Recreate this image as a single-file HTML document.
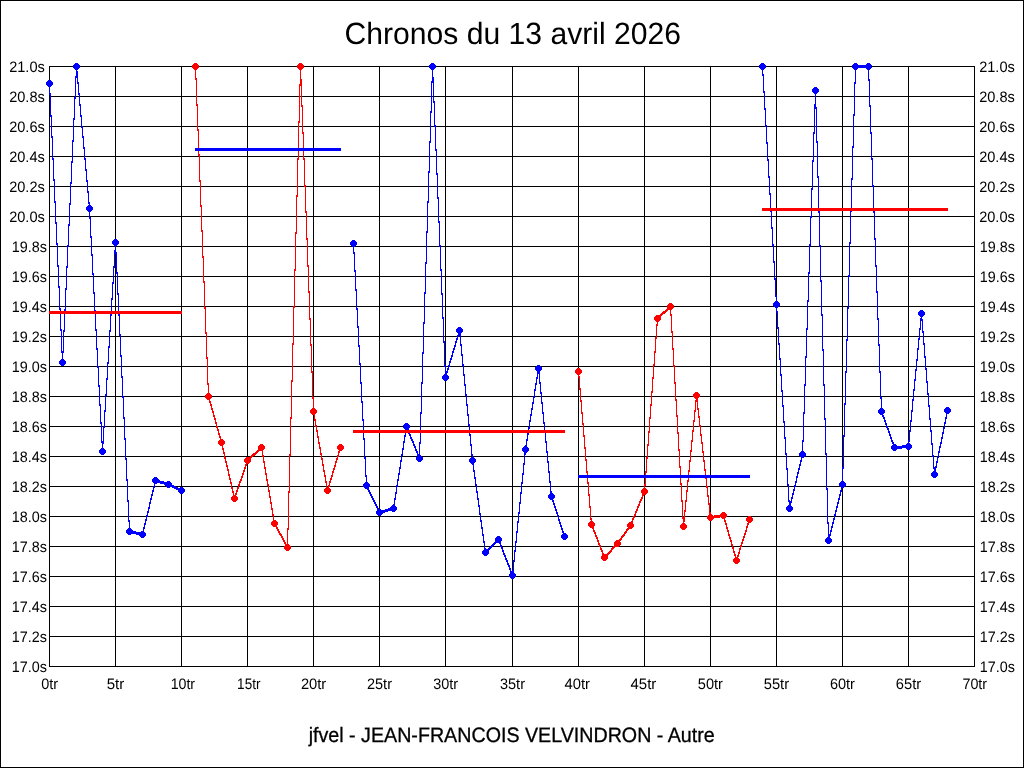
<!DOCTYPE html>
<html><head><meta charset="utf-8"><title>Chronos du 13 avril 2026</title>
<style>
html,body{margin:0;padding:0;background:#fff;width:1024px;height:768px;overflow:hidden}
svg{display:block;will-change:transform}
</style></head><body>
<svg width="1024" height="768" viewBox="0 0 1024 768">
<rect x="0" y="0" width="1024" height="768" fill="#fff"/>
<path shape-rendering="crispEdges" fill="#000" d="M0 0h1024v1H0zM0 767h1024v1H0zM0 0h1v768H0zM1023 0h1v768h-1z"/>
<path shape-rendering="crispEdges" fill="#000" d="M49 66h926v1h-926zM49 96h926v1h-926zM49 126h926v1h-926zM49 156h926v1h-926zM49 186h926v1h-926zM49 216h926v1h-926zM49 246h926v1h-926zM49 276h926v1h-926zM49 306h926v1h-926zM49 336h926v1h-926zM49 366h926v1h-926zM49 396h926v1h-926zM49 426h926v1h-926zM49 456h926v1h-926zM49 486h926v1h-926zM49 516h926v1h-926zM49 546h926v1h-926zM49 576h926v1h-926zM49 606h926v1h-926zM49 636h926v1h-926zM49 666h926v1h-926zM49 66h1v601h-1zM115 66h1v601h-1zM181 66h1v601h-1zM247 66h1v601h-1zM313 66h1v601h-1zM379 66h1v601h-1zM445 66h1v601h-1zM512 66h1v601h-1zM578 66h1v601h-1zM644 66h1v601h-1zM710 66h1v601h-1zM776 66h1v601h-1zM842 66h1v601h-1zM908 66h1v601h-1zM974 66h1v601h-1z"/>
<path shape-rendering="crispEdges" fill="#0000ff" d="M49 82h1v13h-1zM50 93h1v24h-1zM51 115h1v23h-1zM52 136h1v24h-1zM53 158h1v23h-1zM54 179h1v24h-1zM55 201h1v23h-1zM56 222h1v23h-1zM57 243h1v24h-1zM58 265h1v23h-1zM59 286h1v24h-1zM60 308h1v23h-1zM61 329h1v24h-1zM62 351h1v13h-1zM62 351h1v13h-1zM63 330h1v23h-1zM64 309h1v23h-1zM65 288h1v23h-1zM66 266h1v24h-1zM67 245h1v23h-1zM68 224h1v23h-1zM69 203h1v23h-1zM70 182h1v23h-1zM71 161h1v23h-1zM72 140h1v23h-1zM73 118h1v24h-1zM74 97h1v23h-1zM75 76h1v23h-1zM76 65h1v13h-1zM76 65h1v8h-1zM77 71h1v13h-1zM78 82h1v13h-1zM79 93h1v13h-1zM80 104h1v13h-1zM81 115h1v13h-1zM82 126h1v12h-1zM83 136h1v13h-1zM84 147h1v13h-1zM85 158h1v13h-1zM86 169h1v13h-1zM87 180h1v13h-1zM88 191h1v13h-1zM89 202h1v8h-1zM89 207h1v12h-1zM90 217h1v21h-1zM91 236h1v20h-1zM92 254h1v21h-1zM93 273h1v21h-1zM94 292h1v20h-1zM95 310h1v21h-1zM96 329h1v21h-1zM97 348h1v20h-1zM98 366h1v21h-1zM99 385h1v21h-1zM100 404h1v20h-1zM101 422h1v21h-1zM102 441h1v12h-1zM102 442h1v11h-1zM103 426h1v18h-1zM104 410h1v18h-1zM105 394h1v18h-1zM106 378h1v18h-1zM107 362h1v18h-1zM108 346h1v18h-1zM109 330h1v18h-1zM110 314h1v18h-1zM111 298h1v18h-1zM112 282h1v18h-1zM113 266h1v18h-1zM114 250h1v18h-1zM115 241h1v11h-1zM115 241h1v13h-1zM116 252h1v22h-1zM117 272h1v23h-1zM118 293h1v23h-1zM119 314h1v22h-1zM120 334h1v23h-1zM121 355h1v23h-1zM122 376h1v22h-1zM123 396h1v23h-1zM124 417h1v23h-1zM125 438h1v22h-1zM126 458h1v23h-1zM127 479h1v23h-1zM128 500h1v22h-1zM129 520h1v13h-1zM129 530h1v3h-1zM130 530h1v3h-1zM131 530h1v3h-1zM132 531h1v3h-1zM133 531h1v3h-1zM134 531h1v3h-1zM135 531h1v3h-1zM136 532h1v3h-1zM137 532h1v3h-1zM138 532h1v3h-1zM139 532h1v3h-1zM140 533h1v3h-1zM141 533h1v3h-1zM142 533h1v3h-1zM142 531h1v5h-1zM143 527h1v6h-1zM144 523h1v6h-1zM145 519h1v6h-1zM146 515h1v6h-1zM147 511h1v6h-1zM148 507h1v6h-1zM149 502h1v7h-1zM150 498h1v6h-1zM151 494h1v6h-1zM152 490h1v6h-1zM153 486h1v6h-1zM154 482h1v6h-1zM155 479h1v5h-1zM155 479h1v3h-1zM156 479h1v3h-1zM157 480h1v3h-1zM158 480h1v3h-1zM159 480h1v3h-1zM160 481h1v3h-1zM161 481h1v3h-1zM162 481h1v3h-1zM163 481h1v3h-1zM164 482h1v3h-1zM165 482h1v3h-1zM166 482h1v3h-1zM167 483h1v3h-1zM168 483h1v3h-1zM168 483h1v3h-1zM169 483h1v3h-1zM170 484h1v3h-1zM171 484h1v3h-1zM172 485h1v3h-1zM173 485h1v3h-1zM174 486h1v3h-1zM175 486h1v3h-1zM176 487h1v3h-1zM177 487h1v3h-1zM178 488h1v3h-1zM179 488h1v3h-1zM180 489h1v3h-1zM181 489h1v3h-1z"/>
<path shape-rendering="crispEdges" fill="#0000ff" d="M48 80h3v1h1v1h1v3h-1v1h-1v1h-3v-1h-1v-1h-1v-3h1v-1h1zM61 359h3v1h1v1h1v3h-1v1h-1v1h-3v-1h-1v-1h-1v-3h1v-1h1zM75 63h3v1h1v1h1v3h-1v1h-1v1h-3v-1h-1v-1h-1v-3h1v-1h1zM88 205h3v1h1v1h1v3h-1v1h-1v1h-3v-1h-1v-1h-1v-3h1v-1h1zM101 448h3v1h1v1h1v3h-1v1h-1v1h-3v-1h-1v-1h-1v-3h1v-1h1zM114 239h3v1h1v1h1v3h-1v1h-1v1h-3v-1h-1v-1h-1v-3h1v-1h1zM128 528h3v1h1v1h1v3h-1v1h-1v1h-3v-1h-1v-1h-1v-3h1v-1h1zM141 531h3v1h1v1h1v3h-1v1h-1v1h-3v-1h-1v-1h-1v-3h1v-1h1zM154 477h3v1h1v1h1v3h-1v1h-1v1h-3v-1h-1v-1h-1v-3h1v-1h1zM167 481h3v1h1v1h1v3h-1v1h-1v1h-3v-1h-1v-1h-1v-3h1v-1h1zM180 487h3v1h1v1h1v3h-1v1h-1v1h-3v-1h-1v-1h-1v-3h1v-1h1z"/>
<path shape-rendering="crispEdges" fill="#ff0000" d="M195 65h1v15h-1zM196 78h1v28h-1zM197 104h1v27h-1zM198 129h1v27h-1zM199 154h1v28h-1zM200 180h1v27h-1zM201 205h1v27h-1zM202 230h1v28h-1zM203 256h1v27h-1zM204 281h1v28h-1zM205 307h1v27h-1zM206 332h1v27h-1zM207 357h1v28h-1zM208 383h1v15h-1zM208 395h1v4h-1zM209 397h1v6h-1zM210 401h1v5h-1zM211 404h1v6h-1zM212 408h1v5h-1zM213 411h1v6h-1zM214 415h1v5h-1zM215 418h1v6h-1zM216 422h1v6h-1zM217 426h1v5h-1zM218 429h1v6h-1zM219 433h1v5h-1zM220 436h1v6h-1zM221 440h1v4h-1zM221 441h1v5h-1zM222 444h1v6h-1zM223 448h1v6h-1zM224 452h1v7h-1zM225 457h1v6h-1zM226 461h1v6h-1zM227 465h1v6h-1zM228 469h1v7h-1zM229 474h1v6h-1zM230 478h1v6h-1zM231 482h1v7h-1zM232 487h1v6h-1zM233 491h1v6h-1zM234 495h1v5h-1zM234 496h1v4h-1zM235 493h1v5h-1zM236 490h1v5h-1zM237 487h1v5h-1zM238 484h1v5h-1zM239 481h1v5h-1zM240 479h1v4h-1zM241 476h1v5h-1zM242 473h1v5h-1zM243 470h1v5h-1zM244 467h1v5h-1zM245 464h1v5h-1zM246 461h1v5h-1zM247 459h1v4h-1zM247 459h1v3h-1zM248 458h1v3h-1zM249 457h1v3h-1zM250 456h1v3h-1zM251 455h1v3h-1zM252 454h1v3h-1zM253 453h1v3h-1zM254 453h1v3h-1zM255 452h1v3h-1zM256 451h1v3h-1zM257 450h1v3h-1zM258 449h1v3h-1zM259 448h1v3h-1zM260 447h1v3h-1zM261 446h1v3h-1zM261 446h1v5h-1zM262 449h1v8h-1zM263 455h1v8h-1zM264 461h1v8h-1zM265 467h1v8h-1zM266 473h1v8h-1zM267 479h1v7h-1zM268 484h1v8h-1zM269 490h1v8h-1zM270 496h1v8h-1zM271 502h1v8h-1zM272 508h1v8h-1zM273 514h1v8h-1zM274 520h1v5h-1zM274 522h1v3h-1zM275 523h1v4h-1zM276 525h1v4h-1zM277 527h1v4h-1zM278 529h1v4h-1zM279 531h1v4h-1zM280 533h1v3h-1zM281 534h1v4h-1zM282 536h1v4h-1zM283 538h1v4h-1zM284 540h1v4h-1zM285 542h1v4h-1zM286 544h1v4h-1zM287 546h1v3h-1zM287 528h1v21h-1zM288 491h1v39h-1zM289 454h1v39h-1zM290 417h1v39h-1zM291 380h1v39h-1zM292 343h1v39h-1zM293 306h1v39h-1zM294 269h1v39h-1zM295 232h1v39h-1zM296 195h1v39h-1zM297 158h1v39h-1zM298 121h1v39h-1zM299 84h1v39h-1zM300 65h1v21h-1zM300 65h1v16h-1zM301 79h1v28h-1zM302 105h1v29h-1zM303 132h1v28h-1zM304 158h1v29h-1zM305 185h1v28h-1zM306 211h1v29h-1zM307 238h1v29h-1zM308 265h1v28h-1zM309 291h1v29h-1zM310 318h1v28h-1zM311 344h1v29h-1zM312 371h1v28h-1zM313 397h1v16h-1zM313 410h1v5h-1zM314 413h1v8h-1zM315 419h1v8h-1zM316 425h1v7h-1zM317 430h1v8h-1zM318 436h1v8h-1zM319 442h1v7h-1zM320 447h1v8h-1zM321 453h1v7h-1zM322 458h1v8h-1zM323 464h1v8h-1zM324 470h1v7h-1zM325 475h1v8h-1zM326 481h1v8h-1zM327 487h1v5h-1zM327 488h1v4h-1zM328 485h1v5h-1zM329 481h1v6h-1zM330 478h1v5h-1zM331 475h1v5h-1zM332 471h1v6h-1zM333 468h1v5h-1zM334 465h1v5h-1zM335 461h1v6h-1zM336 458h1v5h-1zM337 455h1v5h-1zM338 451h1v6h-1zM339 448h1v5h-1zM340 446h1v4h-1z"/>
<path shape-rendering="crispEdges" fill="#ff0000" d="M194 63h3v1h1v1h1v3h-1v1h-1v1h-3v-1h-1v-1h-1v-3h1v-1h1zM207 393h3v1h1v1h1v3h-1v1h-1v1h-3v-1h-1v-1h-1v-3h1v-1h1zM220 439h3v1h1v1h1v3h-1v1h-1v1h-3v-1h-1v-1h-1v-3h1v-1h1zM233 495h3v1h1v1h1v3h-1v1h-1v1h-3v-1h-1v-1h-1v-3h1v-1h1zM246 457h3v1h1v1h1v3h-1v1h-1v1h-3v-1h-1v-1h-1v-3h1v-1h1zM260 444h3v1h1v1h1v3h-1v1h-1v1h-3v-1h-1v-1h-1v-3h1v-1h1zM273 520h3v1h1v1h1v3h-1v1h-1v1h-3v-1h-1v-1h-1v-3h1v-1h1zM286 544h3v1h1v1h1v3h-1v1h-1v1h-3v-1h-1v-1h-1v-3h1v-1h1zM299 63h3v1h1v1h1v3h-1v1h-1v1h-3v-1h-1v-1h-1v-3h1v-1h1zM312 408h3v1h1v1h1v3h-1v1h-1v1h-3v-1h-1v-1h-1v-3h1v-1h1zM326 487h3v1h1v1h1v3h-1v1h-1v1h-3v-1h-1v-1h-1v-3h1v-1h1zM339 444h3v1h1v1h1v3h-1v1h-1v1h-3v-1h-1v-1h-1v-3h1v-1h1z"/>
<path shape-rendering="crispEdges" fill="#0000ff" d="M353 242h1v12h-1zM354 252h1v20h-1zM355 270h1v21h-1zM356 289h1v21h-1zM357 308h1v20h-1zM358 326h1v21h-1zM359 345h1v20h-1zM360 363h1v21h-1zM361 382h1v21h-1zM362 401h1v20h-1zM363 419h1v21h-1zM364 438h1v21h-1zM365 457h1v20h-1zM366 475h1v12h-1zM366 484h1v4h-1zM367 486h1v4h-1zM368 488h1v4h-1zM369 490h1v4h-1zM370 492h1v4h-1zM371 494h1v4h-1zM372 496h1v4h-1zM373 498h1v4h-1zM374 500h1v4h-1zM375 502h1v4h-1zM376 504h1v4h-1zM377 506h1v4h-1zM378 508h1v4h-1zM379 510h1v4h-1zM379 511h1v3h-1zM380 511h1v3h-1zM381 510h1v3h-1zM382 510h1v3h-1zM383 510h1v3h-1zM384 510h1v3h-1zM385 509h1v3h-1zM386 509h1v3h-1zM387 509h1v3h-1zM388 508h1v3h-1zM389 508h1v3h-1zM390 508h1v3h-1zM391 508h1v3h-1zM392 507h1v3h-1zM393 507h1v3h-1zM393 504h1v6h-1zM394 498h1v8h-1zM395 492h1v8h-1zM396 485h1v9h-1zM397 479h1v8h-1zM398 473h1v8h-1zM399 467h1v8h-1zM400 460h1v9h-1zM401 454h1v8h-1zM402 448h1v8h-1zM403 441h1v9h-1zM404 435h1v8h-1zM405 429h1v8h-1zM406 425h1v6h-1zM406 425h1v4h-1zM407 427h1v4h-1zM408 429h1v5h-1zM409 432h1v4h-1zM410 434h1v5h-1zM411 437h1v4h-1zM412 439h1v4h-1zM413 441h1v5h-1zM414 444h1v4h-1zM415 446h1v5h-1zM416 449h1v4h-1zM417 451h1v5h-1zM418 454h1v4h-1zM419 456h1v4h-1zM419 442h1v18h-1zM420 412h1v32h-1zM421 382h1v32h-1zM422 352h1v32h-1zM423 322h1v32h-1zM424 292h1v32h-1zM425 262h1v32h-1zM426 231h1v33h-1zM427 201h1v32h-1zM428 171h1v32h-1zM429 141h1v32h-1zM430 111h1v32h-1zM431 81h1v32h-1zM432 65h1v18h-1zM432 65h1v14h-1zM433 77h1v26h-1zM434 101h1v26h-1zM435 125h1v26h-1zM436 149h1v26h-1zM437 173h1v26h-1zM438 197h1v26h-1zM439 221h1v26h-1zM440 245h1v26h-1zM441 269h1v26h-1zM442 293h1v26h-1zM443 317h1v26h-1zM444 341h1v26h-1zM445 365h1v14h-1zM445 375h1v4h-1zM446 371h1v6h-1zM447 368h1v5h-1zM448 365h1v5h-1zM449 361h1v6h-1zM450 358h1v5h-1zM451 355h1v5h-1zM452 351h1v6h-1zM453 348h1v5h-1zM454 345h1v5h-1zM455 341h1v6h-1zM456 338h1v5h-1zM457 335h1v5h-1zM458 331h1v6h-1zM459 329h1v4h-1zM459 329h1v7h-1zM460 334h1v12h-1zM461 344h1v12h-1zM462 354h1v12h-1zM463 364h1v12h-1zM464 374h1v12h-1zM465 384h1v12h-1zM466 394h1v12h-1zM467 404h1v12h-1zM468 414h1v12h-1zM469 424h1v12h-1zM470 434h1v12h-1zM471 444h1v12h-1zM472 454h1v8h-1zM472 459h1v6h-1zM473 463h1v9h-1zM474 470h1v9h-1zM475 477h1v9h-1zM476 484h1v9h-1zM477 491h1v9h-1zM478 498h1v9h-1zM479 505h1v10h-1zM480 513h1v9h-1zM481 520h1v9h-1zM482 527h1v9h-1zM483 534h1v9h-1zM484 541h1v9h-1zM485 548h1v6h-1zM485 551h1v3h-1zM486 550h1v3h-1zM487 549h1v3h-1zM488 548h1v3h-1zM489 547h1v3h-1zM490 546h1v3h-1zM491 545h1v3h-1zM492 544h1v3h-1zM493 543h1v3h-1zM494 542h1v3h-1zM495 541h1v3h-1zM496 540h1v3h-1zM497 539h1v3h-1zM498 538h1v3h-1zM498 538h1v4h-1zM499 540h1v4h-1zM500 542h1v5h-1zM501 545h1v4h-1zM502 547h1v5h-1zM503 550h1v5h-1zM504 553h1v4h-1zM505 555h1v5h-1zM506 558h1v4h-1zM507 560h1v5h-1zM508 563h1v4h-1zM509 565h1v5h-1zM510 568h1v5h-1zM511 571h1v4h-1zM512 573h1v4h-1zM512 570h1v7h-1zM513 560h1v12h-1zM514 550h1v12h-1zM515 541h1v11h-1zM516 531h1v12h-1zM517 521h1v12h-1zM518 512h1v11h-1zM519 502h1v12h-1zM520 492h1v12h-1zM521 482h1v12h-1zM522 473h1v11h-1zM523 463h1v12h-1zM524 453h1v12h-1zM525 448h1v7h-1zM525 445h1v6h-1zM526 439h1v8h-1zM527 433h1v8h-1zM528 427h1v8h-1zM529 420h1v9h-1zM530 414h1v8h-1zM531 408h1v8h-1zM532 402h1v8h-1zM533 396h1v8h-1zM534 389h1v9h-1zM535 383h1v8h-1zM536 377h1v8h-1zM537 371h1v8h-1zM538 367h1v6h-1zM538 367h1v7h-1zM539 372h1v12h-1zM540 382h1v12h-1zM541 392h1v12h-1zM542 402h1v12h-1zM543 412h1v12h-1zM544 422h1v11h-1zM545 431h1v12h-1zM546 441h1v12h-1zM547 451h1v12h-1zM548 461h1v12h-1zM549 471h1v12h-1zM550 481h1v12h-1zM551 491h1v7h-1zM551 495h1v4h-1zM552 497h1v5h-1zM553 500h1v5h-1zM554 503h1v5h-1zM555 506h1v5h-1zM556 509h1v5h-1zM557 512h1v5h-1zM558 515h1v6h-1zM559 519h1v5h-1zM560 522h1v5h-1zM561 525h1v5h-1zM562 528h1v5h-1zM563 531h1v5h-1zM564 534h1v4h-1z"/>
<path shape-rendering="crispEdges" fill="#0000ff" d="M352 240h3v1h1v1h1v3h-1v1h-1v1h-3v-1h-1v-1h-1v-3h1v-1h1zM365 482h3v1h1v1h1v3h-1v1h-1v1h-3v-1h-1v-1h-1v-3h1v-1h1zM378 509h3v1h1v1h1v3h-1v1h-1v1h-3v-1h-1v-1h-1v-3h1v-1h1zM392 505h3v1h1v1h1v3h-1v1h-1v1h-3v-1h-1v-1h-1v-3h1v-1h1zM405 423h3v1h1v1h1v3h-1v1h-1v1h-3v-1h-1v-1h-1v-3h1v-1h1zM418 455h3v1h1v1h1v3h-1v1h-1v1h-3v-1h-1v-1h-1v-3h1v-1h1zM431 63h3v1h1v1h1v3h-1v1h-1v1h-3v-1h-1v-1h-1v-3h1v-1h1zM444 374h3v1h1v1h1v3h-1v1h-1v1h-3v-1h-1v-1h-1v-3h1v-1h1zM458 327h3v1h1v1h1v3h-1v1h-1v1h-3v-1h-1v-1h-1v-3h1v-1h1zM471 457h3v1h1v1h1v3h-1v1h-1v1h-3v-1h-1v-1h-1v-3h1v-1h1zM484 549h3v1h1v1h1v3h-1v1h-1v1h-3v-1h-1v-1h-1v-3h1v-1h1zM497 536h3v1h1v1h1v3h-1v1h-1v1h-3v-1h-1v-1h-1v-3h1v-1h1zM511 572h3v1h1v1h1v3h-1v1h-1v1h-3v-1h-1v-1h-1v-3h1v-1h1zM524 446h3v1h1v1h1v3h-1v1h-1v1h-3v-1h-1v-1h-1v-3h1v-1h1zM537 365h3v1h1v1h1v3h-1v1h-1v1h-3v-1h-1v-1h-1v-3h1v-1h1zM550 493h3v1h1v1h1v3h-1v1h-1v1h-3v-1h-1v-1h-1v-3h1v-1h1zM563 533h3v1h1v1h1v3h-1v1h-1v1h-3v-1h-1v-1h-1v-3h1v-1h1z"/>
<path shape-rendering="crispEdges" fill="#ff0000" d="M578 370h1v8h-1zM579 376h1v14h-1zM580 388h1v14h-1zM581 400h1v14h-1zM582 412h1v13h-1zM583 423h1v14h-1zM584 435h1v14h-1zM585 447h1v14h-1zM586 459h1v14h-1zM587 471h1v13h-1zM588 482h1v14h-1zM589 494h1v14h-1zM590 506h1v14h-1zM591 518h1v8h-1zM591 523h1v4h-1zM592 525h1v4h-1zM593 527h1v5h-1zM594 530h1v4h-1zM595 532h1v5h-1zM596 535h1v4h-1zM597 537h1v5h-1zM598 540h1v5h-1zM599 543h1v4h-1zM600 545h1v5h-1zM601 548h1v4h-1zM602 550h1v5h-1zM603 553h1v4h-1zM604 555h1v4h-1zM604 556h1v3h-1zM605 555h1v3h-1zM606 554h1v3h-1zM607 553h1v3h-1zM608 552h1v3h-1zM609 551h1v3h-1zM610 550h1v3h-1zM611 548h1v4h-1zM612 547h1v3h-1zM613 546h1v3h-1zM614 545h1v3h-1zM615 544h1v3h-1zM616 543h1v3h-1zM617 542h1v3h-1zM617 542h1v3h-1zM618 540h1v4h-1zM619 539h1v3h-1zM620 538h1v3h-1zM621 536h1v4h-1zM622 535h1v3h-1zM623 534h1v3h-1zM624 532h1v4h-1zM625 531h1v3h-1zM626 529h1v4h-1zM627 528h1v3h-1zM628 527h1v3h-1zM629 525h1v4h-1zM630 524h1v3h-1zM630 523h1v4h-1zM631 521h1v4h-1zM632 518h1v5h-1zM633 516h1v4h-1zM634 514h1v4h-1zM635 511h1v5h-1zM636 509h1v4h-1zM637 506h1v5h-1zM638 504h1v4h-1zM639 501h1v5h-1zM640 499h1v4h-1zM641 497h1v4h-1zM642 494h1v5h-1zM643 492h1v4h-1zM644 490h1v4h-1zM644 484h1v9h-1zM645 471h1v15h-1zM646 457h1v16h-1zM647 444h1v15h-1zM648 431h1v15h-1zM649 417h1v16h-1zM650 404h1v15h-1zM651 391h1v15h-1zM652 377h1v16h-1zM653 364h1v15h-1zM654 351h1v15h-1zM655 337h1v16h-1zM656 324h1v15h-1zM657 317h1v9h-1zM657 317h1v3h-1zM658 316h1v3h-1zM659 315h1v3h-1zM660 314h1v3h-1zM661 313h1v3h-1zM662 312h1v3h-1zM663 311h1v3h-1zM664 311h1v3h-1zM665 310h1v3h-1zM666 309h1v3h-1zM667 308h1v3h-1zM668 307h1v3h-1zM669 306h1v3h-1zM670 305h1v3h-1zM670 305h1v11h-1zM671 314h1v19h-1zM672 331h1v19h-1zM673 348h1v19h-1zM674 365h1v19h-1zM675 382h1v19h-1zM676 399h1v18h-1zM677 415h1v19h-1zM678 432h1v19h-1zM679 449h1v19h-1zM680 466h1v19h-1zM681 483h1v19h-1zM682 500h1v19h-1zM683 517h1v11h-1zM683 520h1v8h-1zM684 510h1v12h-1zM685 500h1v12h-1zM686 490h1v12h-1zM687 480h1v12h-1zM688 470h1v12h-1zM689 460h1v12h-1zM690 450h1v12h-1zM691 440h1v12h-1zM692 430h1v12h-1zM693 420h1v12h-1zM694 410h1v12h-1zM695 400h1v12h-1zM696 394h1v8h-1zM696 394h1v7h-1zM697 399h1v11h-1zM698 408h1v10h-1zM699 416h1v11h-1zM700 425h1v11h-1zM701 434h1v10h-1zM702 442h1v11h-1zM703 451h1v11h-1zM704 460h1v11h-1zM705 469h1v10h-1zM706 477h1v11h-1zM707 486h1v11h-1zM708 495h1v10h-1zM709 503h1v11h-1zM710 512h1v7h-1zM710 516h1v3h-1zM711 516h1v3h-1zM712 516h1v3h-1zM713 516h1v3h-1zM714 515h1v3h-1zM715 515h1v3h-1zM716 515h1v3h-1zM717 515h1v3h-1zM718 515h1v3h-1zM719 515h1v3h-1zM720 514h1v3h-1zM721 514h1v3h-1zM722 514h1v3h-1zM723 514h1v3h-1zM723 514h1v4h-1zM724 516h1v6h-1zM725 520h1v5h-1zM726 523h1v6h-1zM727 527h1v5h-1zM728 530h1v6h-1zM729 534h1v5h-1zM730 537h1v5h-1zM731 540h1v6h-1zM732 544h1v5h-1zM733 547h1v6h-1zM734 551h1v5h-1zM735 554h1v6h-1zM736 558h1v4h-1zM736 558h1v4h-1zM737 555h1v5h-1zM738 552h1v5h-1zM739 548h1v6h-1zM740 545h1v5h-1zM741 542h1v5h-1zM742 539h1v5h-1zM743 536h1v5h-1zM744 533h1v5h-1zM745 530h1v5h-1zM746 526h1v6h-1zM747 523h1v5h-1zM748 520h1v5h-1zM749 518h1v4h-1z"/>
<path shape-rendering="crispEdges" fill="#ff0000" d="M577 368h3v1h1v1h1v3h-1v1h-1v1h-3v-1h-1v-1h-1v-3h1v-1h1zM590 521h3v1h1v1h1v3h-1v1h-1v1h-3v-1h-1v-1h-1v-3h1v-1h1zM603 554h3v1h1v1h1v3h-1v1h-1v1h-3v-1h-1v-1h-1v-3h1v-1h1zM616 540h3v1h1v1h1v3h-1v1h-1v1h-3v-1h-1v-1h-1v-3h1v-1h1zM629 522h3v1h1v1h1v3h-1v1h-1v1h-3v-1h-1v-1h-1v-3h1v-1h1zM643 488h3v1h1v1h1v3h-1v1h-1v1h-3v-1h-1v-1h-1v-3h1v-1h1zM656 315h3v1h1v1h1v3h-1v1h-1v1h-3v-1h-1v-1h-1v-3h1v-1h1zM669 303h3v1h1v1h1v3h-1v1h-1v1h-3v-1h-1v-1h-1v-3h1v-1h1zM682 523h3v1h1v1h1v3h-1v1h-1v1h-3v-1h-1v-1h-1v-3h1v-1h1zM695 392h3v1h1v1h1v3h-1v1h-1v1h-3v-1h-1v-1h-1v-3h1v-1h1zM709 514h3v1h1v1h1v3h-1v1h-1v1h-3v-1h-1v-1h-1v-3h1v-1h1zM722 512h3v1h1v1h1v3h-1v1h-1v1h-3v-1h-1v-1h-1v-3h1v-1h1zM735 557h3v1h1v1h1v3h-1v1h-1v1h-3v-1h-1v-1h-1v-3h1v-1h1zM748 516h3v1h1v1h1v3h-1v1h-1v1h-3v-1h-1v-1h-1v-3h1v-1h1z"/>
<path shape-rendering="crispEdges" fill="#0000ff" d="M762 65h1v11h-1zM763 74h1v19h-1zM764 91h1v19h-1zM765 108h1v19h-1zM766 125h1v19h-1zM767 142h1v19h-1zM768 159h1v19h-1zM769 176h1v19h-1zM770 193h1v19h-1zM771 210h1v19h-1zM772 227h1v19h-1zM773 244h1v19h-1zM774 261h1v19h-1zM775 278h1v19h-1zM776 295h1v11h-1zM776 303h1v10h-1zM777 311h1v18h-1zM778 327h1v18h-1zM779 343h1v17h-1zM780 358h1v18h-1zM781 374h1v18h-1zM782 390h1v17h-1zM783 405h1v18h-1zM784 421h1v18h-1zM785 437h1v18h-1zM786 453h1v17h-1zM787 468h1v18h-1zM788 484h1v18h-1zM789 500h1v10h-1zM789 505h1v5h-1zM790 501h1v6h-1zM791 497h1v6h-1zM792 493h1v6h-1zM793 489h1v6h-1zM794 485h1v6h-1zM795 481h1v6h-1zM796 476h1v7h-1zM797 472h1v6h-1zM798 468h1v6h-1zM799 464h1v6h-1zM800 460h1v6h-1zM801 456h1v6h-1zM802 453h1v5h-1zM802 440h1v16h-1zM803 412h1v30h-1zM804 384h1v30h-1zM805 356h1v30h-1zM806 328h1v30h-1zM807 300h1v30h-1zM808 272h1v30h-1zM809 244h1v30h-1zM810 216h1v30h-1zM811 188h1v30h-1zM812 160h1v30h-1zM813 132h1v30h-1zM814 104h1v30h-1zM815 89h1v17h-1zM815 89h1v20h-1zM816 107h1v36h-1zM817 141h1v37h-1zM818 176h1v37h-1zM819 211h1v36h-1zM820 245h1v37h-1zM821 280h1v36h-1zM822 314h1v37h-1zM823 349h1v37h-1zM824 384h1v36h-1zM825 418h1v37h-1zM826 453h1v37h-1zM827 488h1v36h-1zM828 522h1v20h-1zM828 538h1v4h-1zM829 534h1v6h-1zM830 530h1v6h-1zM831 526h1v6h-1zM832 522h1v6h-1zM833 518h1v6h-1zM834 514h1v6h-1zM835 510h1v6h-1zM836 506h1v6h-1zM837 502h1v6h-1zM838 498h1v6h-1zM839 494h1v6h-1zM840 490h1v6h-1zM841 486h1v6h-1zM842 483h1v5h-1zM842 467h1v19h-1zM843 435h1v34h-1zM844 403h1v34h-1zM845 371h1v34h-1zM846 339h1v34h-1zM847 307h1v34h-1zM848 275h1v34h-1zM849 242h1v35h-1zM850 210h1v34h-1zM851 178h1v34h-1zM852 146h1v34h-1zM853 114h1v34h-1zM854 82h1v34h-1zM855 65h1v19h-1zM855 65h1v3h-1zM856 65h1v3h-1zM857 65h1v3h-1zM858 65h1v3h-1zM859 65h1v3h-1zM860 65h1v3h-1zM861 65h1v3h-1zM862 65h1v3h-1zM863 65h1v3h-1zM864 65h1v3h-1zM865 65h1v3h-1zM866 65h1v3h-1zM867 65h1v3h-1zM868 65h1v3h-1zM868 65h1v16h-1zM869 79h1v28h-1zM870 105h1v29h-1zM871 132h1v28h-1zM872 158h1v29h-1zM873 185h1v28h-1zM874 211h1v29h-1zM875 238h1v29h-1zM876 265h1v28h-1zM877 291h1v29h-1zM878 318h1v28h-1zM879 344h1v29h-1zM880 371h1v28h-1zM881 397h1v16h-1zM881 410h1v4h-1zM882 412h1v5h-1zM883 415h1v4h-1zM884 417h1v5h-1zM885 420h1v5h-1zM886 423h1v5h-1zM887 426h1v4h-1zM888 428h1v5h-1zM889 431h1v5h-1zM890 434h1v5h-1zM891 437h1v5h-1zM892 440h1v4h-1zM893 442h1v5h-1zM894 445h1v4h-1zM894 446h1v3h-1zM895 446h1v3h-1zM896 446h1v3h-1zM897 446h1v3h-1zM898 446h1v3h-1zM899 446h1v3h-1zM900 446h1v3h-1zM901 446h1v3h-1zM902 445h1v3h-1zM903 445h1v3h-1zM904 445h1v3h-1zM905 445h1v3h-1zM906 445h1v3h-1zM907 445h1v3h-1zM908 445h1v3h-1zM908 440h1v8h-1zM909 430h1v12h-1zM910 420h1v12h-1zM911 410h1v12h-1zM912 399h1v13h-1zM913 389h1v12h-1zM914 379h1v12h-1zM915 369h1v12h-1zM916 359h1v12h-1zM917 348h1v13h-1zM918 338h1v12h-1zM919 328h1v12h-1zM920 318h1v12h-1zM921 312h1v8h-1zM921 312h1v9h-1zM922 319h1v14h-1zM923 331h1v14h-1zM924 343h1v15h-1zM925 356h1v14h-1zM926 368h1v15h-1zM927 381h1v14h-1zM928 393h1v14h-1zM929 405h1v15h-1zM930 418h1v14h-1zM931 430h1v15h-1zM932 443h1v14h-1zM933 455h1v14h-1zM934 467h1v9h-1zM934 471h1v5h-1zM935 466h1v7h-1zM936 461h1v7h-1zM937 456h1v7h-1zM938 451h1v7h-1zM939 446h1v7h-1zM940 442h1v6h-1zM941 437h1v7h-1zM942 432h1v7h-1zM943 427h1v7h-1zM944 422h1v7h-1zM945 417h1v7h-1zM946 412h1v7h-1zM947 409h1v5h-1z"/>
<path shape-rendering="crispEdges" fill="#0000ff" d="M761 63h3v1h1v1h1v3h-1v1h-1v1h-3v-1h-1v-1h-1v-3h1v-1h1zM775 301h3v1h1v1h1v3h-1v1h-1v1h-3v-1h-1v-1h-1v-3h1v-1h1zM788 505h3v1h1v1h1v3h-1v1h-1v1h-3v-1h-1v-1h-1v-3h1v-1h1zM801 451h3v1h1v1h1v3h-1v1h-1v1h-3v-1h-1v-1h-1v-3h1v-1h1zM814 87h3v1h1v1h1v3h-1v1h-1v1h-3v-1h-1v-1h-1v-3h1v-1h1zM827 537h3v1h1v1h1v3h-1v1h-1v1h-3v-1h-1v-1h-1v-3h1v-1h1zM841 481h3v1h1v1h1v3h-1v1h-1v1h-3v-1h-1v-1h-1v-3h1v-1h1zM854 63h3v1h1v1h1v3h-1v1h-1v1h-3v-1h-1v-1h-1v-3h1v-1h1zM867 63h3v1h1v1h1v3h-1v1h-1v1h-3v-1h-1v-1h-1v-3h1v-1h1zM880 408h3v1h1v1h1v3h-1v1h-1v1h-3v-1h-1v-1h-1v-3h1v-1h1zM893 444h3v1h1v1h1v3h-1v1h-1v1h-3v-1h-1v-1h-1v-3h1v-1h1zM907 443h3v1h1v1h1v3h-1v1h-1v1h-3v-1h-1v-1h-1v-3h1v-1h1zM920 310h3v1h1v1h1v3h-1v1h-1v1h-3v-1h-1v-1h-1v-3h1v-1h1zM933 471h3v1h1v1h1v3h-1v1h-1v1h-3v-1h-1v-1h-1v-3h1v-1h1zM946 407h3v1h1v1h1v3h-1v1h-1v1h-3v-1h-1v-1h-1v-3h1v-1h1z"/>
<path shape-rendering="crispEdges" fill="#ff0000" d="M49 311h133v3h-133z"/>
<path shape-rendering="crispEdges" fill="#0000ff" d="M195 148h146v3h-146z"/>
<path shape-rendering="crispEdges" fill="#ff0000" d="M353 430h212v3h-212z"/>
<path shape-rendering="crispEdges" fill="#0000ff" d="M578 475h172v3h-172z"/>
<path shape-rendering="crispEdges" fill="#ff0000" d="M762 208h186v3h-186z"/>
<g font-family="'Liberation Sans', Arial, Helvetica, sans-serif" fill="#000"><text x="344.59" y="44" font-size="30.67" textLength="336.474" lengthAdjust="spacingAndGlyphs" style="text-rendering:geometricPrecision">Chronos du 13 avril 2026</text><text x="308.66" y="742" font-size="20.8" textLength="406.074" lengthAdjust="spacingAndGlyphs" style="text-rendering:geometricPrecision" stroke="#000" stroke-width="0.3">jfvel - JEAN-FRANCOIS VELVINDRON - Autre</text><text x="41.17" y="689" font-size="15.2" textLength="16.882" lengthAdjust="spacingAndGlyphs" style="text-rendering:geometricPrecision">0tr</text><text x="106.68" y="689" font-size="15.2" textLength="17.594" lengthAdjust="spacingAndGlyphs" style="text-rendering:geometricPrecision">5tr</text><text x="170.63" y="689" font-size="15.2" textLength="24.440" lengthAdjust="spacingAndGlyphs" style="text-rendering:geometricPrecision">10tr</text><text x="237.11" y="689" font-size="15.2" textLength="23.330" lengthAdjust="spacingAndGlyphs" style="text-rendering:geometricPrecision">15tr</text><text x="300.88" y="689" font-size="15.2" textLength="25.362" lengthAdjust="spacingAndGlyphs" style="text-rendering:geometricPrecision">20tr</text><text x="366.95" y="689" font-size="15.2" textLength="25.034" lengthAdjust="spacingAndGlyphs" style="text-rendering:geometricPrecision">25tr</text><text x="433.20" y="689" font-size="15.2" textLength="24.922" lengthAdjust="spacingAndGlyphs" style="text-rendering:geometricPrecision">30tr</text><text x="499.94" y="689" font-size="15.2" textLength="25.050" lengthAdjust="spacingAndGlyphs" style="text-rendering:geometricPrecision">35tr</text><text x="564.45" y="689" font-size="15.2" textLength="25.474" lengthAdjust="spacingAndGlyphs" style="text-rendering:geometricPrecision">40tr</text><text x="630.50" y="689" font-size="15.2" textLength="25.782" lengthAdjust="spacingAndGlyphs" style="text-rendering:geometricPrecision">45tr</text><text x="697.83" y="689" font-size="15.2" textLength="25.142" lengthAdjust="spacingAndGlyphs" style="text-rendering:geometricPrecision">50tr</text><text x="763.74" y="689" font-size="15.2" textLength="25.303" lengthAdjust="spacingAndGlyphs" style="text-rendering:geometricPrecision">55tr</text><text x="829.95" y="689" font-size="15.2" textLength="25.023" lengthAdjust="spacingAndGlyphs" style="text-rendering:geometricPrecision">60tr</text><text x="895.87" y="689" font-size="15.2" textLength="25.386" lengthAdjust="spacingAndGlyphs" style="text-rendering:geometricPrecision">65tr</text><text x="962.44" y="689" font-size="15.2" textLength="24.615" lengthAdjust="spacingAndGlyphs" style="text-rendering:geometricPrecision">70tr</text><text x="9.16" y="72" font-size="15.2" textLength="35.657" lengthAdjust="spacingAndGlyphs" style="text-rendering:geometricPrecision">21.0s</text><text x="979.16" y="72" font-size="15.2" textLength="35.657" lengthAdjust="spacingAndGlyphs" style="text-rendering:geometricPrecision">21.0s</text><text x="9.16" y="102" font-size="15.2" textLength="35.657" lengthAdjust="spacingAndGlyphs" style="text-rendering:geometricPrecision">20.8s</text><text x="979.16" y="102" font-size="15.2" textLength="35.657" lengthAdjust="spacingAndGlyphs" style="text-rendering:geometricPrecision">20.8s</text><text x="9.16" y="132" font-size="15.2" textLength="35.657" lengthAdjust="spacingAndGlyphs" style="text-rendering:geometricPrecision">20.6s</text><text x="979.16" y="132" font-size="15.2" textLength="35.657" lengthAdjust="spacingAndGlyphs" style="text-rendering:geometricPrecision">20.6s</text><text x="9.16" y="162" font-size="15.2" textLength="35.657" lengthAdjust="spacingAndGlyphs" style="text-rendering:geometricPrecision">20.4s</text><text x="979.16" y="162" font-size="15.2" textLength="35.657" lengthAdjust="spacingAndGlyphs" style="text-rendering:geometricPrecision">20.4s</text><text x="9.16" y="192" font-size="15.2" textLength="35.657" lengthAdjust="spacingAndGlyphs" style="text-rendering:geometricPrecision">20.2s</text><text x="979.16" y="192" font-size="15.2" textLength="35.657" lengthAdjust="spacingAndGlyphs" style="text-rendering:geometricPrecision">20.2s</text><text x="9.16" y="222" font-size="15.2" textLength="35.657" lengthAdjust="spacingAndGlyphs" style="text-rendering:geometricPrecision">20.0s</text><text x="979.16" y="222" font-size="15.2" textLength="35.657" lengthAdjust="spacingAndGlyphs" style="text-rendering:geometricPrecision">20.0s</text><text x="11.72" y="252" font-size="15.2" textLength="35.164" lengthAdjust="spacingAndGlyphs" style="text-rendering:geometricPrecision">19.8s</text><text x="979.79" y="252" font-size="15.2" textLength="35.027" lengthAdjust="spacingAndGlyphs" style="text-rendering:geometricPrecision">19.8s</text><text x="11.72" y="282" font-size="15.2" textLength="35.164" lengthAdjust="spacingAndGlyphs" style="text-rendering:geometricPrecision">19.6s</text><text x="979.79" y="282" font-size="15.2" textLength="35.027" lengthAdjust="spacingAndGlyphs" style="text-rendering:geometricPrecision">19.6s</text><text x="11.72" y="312" font-size="15.2" textLength="35.164" lengthAdjust="spacingAndGlyphs" style="text-rendering:geometricPrecision">19.4s</text><text x="979.79" y="312" font-size="15.2" textLength="35.027" lengthAdjust="spacingAndGlyphs" style="text-rendering:geometricPrecision">19.4s</text><text x="11.72" y="342" font-size="15.2" textLength="35.164" lengthAdjust="spacingAndGlyphs" style="text-rendering:geometricPrecision">19.2s</text><text x="979.79" y="342" font-size="15.2" textLength="35.027" lengthAdjust="spacingAndGlyphs" style="text-rendering:geometricPrecision">19.2s</text><text x="11.72" y="372" font-size="15.2" textLength="35.164" lengthAdjust="spacingAndGlyphs" style="text-rendering:geometricPrecision">19.0s</text><text x="979.79" y="372" font-size="15.2" textLength="35.027" lengthAdjust="spacingAndGlyphs" style="text-rendering:geometricPrecision">19.0s</text><text x="11.72" y="402" font-size="15.2" textLength="35.164" lengthAdjust="spacingAndGlyphs" style="text-rendering:geometricPrecision">18.8s</text><text x="979.79" y="402" font-size="15.2" textLength="35.027" lengthAdjust="spacingAndGlyphs" style="text-rendering:geometricPrecision">18.8s</text><text x="11.72" y="432" font-size="15.2" textLength="35.164" lengthAdjust="spacingAndGlyphs" style="text-rendering:geometricPrecision">18.6s</text><text x="979.79" y="432" font-size="15.2" textLength="35.027" lengthAdjust="spacingAndGlyphs" style="text-rendering:geometricPrecision">18.6s</text><text x="11.72" y="462" font-size="15.2" textLength="35.164" lengthAdjust="spacingAndGlyphs" style="text-rendering:geometricPrecision">18.4s</text><text x="979.79" y="462" font-size="15.2" textLength="35.027" lengthAdjust="spacingAndGlyphs" style="text-rendering:geometricPrecision">18.4s</text><text x="11.72" y="492" font-size="15.2" textLength="35.164" lengthAdjust="spacingAndGlyphs" style="text-rendering:geometricPrecision">18.2s</text><text x="979.79" y="492" font-size="15.2" textLength="35.027" lengthAdjust="spacingAndGlyphs" style="text-rendering:geometricPrecision">18.2s</text><text x="11.72" y="522" font-size="15.2" textLength="35.164" lengthAdjust="spacingAndGlyphs" style="text-rendering:geometricPrecision">18.0s</text><text x="979.79" y="522" font-size="15.2" textLength="35.027" lengthAdjust="spacingAndGlyphs" style="text-rendering:geometricPrecision">18.0s</text><text x="11.72" y="552" font-size="15.2" textLength="35.164" lengthAdjust="spacingAndGlyphs" style="text-rendering:geometricPrecision">17.8s</text><text x="979.79" y="552" font-size="15.2" textLength="35.027" lengthAdjust="spacingAndGlyphs" style="text-rendering:geometricPrecision">17.8s</text><text x="11.72" y="582" font-size="15.2" textLength="35.164" lengthAdjust="spacingAndGlyphs" style="text-rendering:geometricPrecision">17.6s</text><text x="979.79" y="582" font-size="15.2" textLength="35.027" lengthAdjust="spacingAndGlyphs" style="text-rendering:geometricPrecision">17.6s</text><text x="11.72" y="612" font-size="15.2" textLength="35.164" lengthAdjust="spacingAndGlyphs" style="text-rendering:geometricPrecision">17.4s</text><text x="979.79" y="612" font-size="15.2" textLength="35.027" lengthAdjust="spacingAndGlyphs" style="text-rendering:geometricPrecision">17.4s</text><text x="11.72" y="642" font-size="15.2" textLength="35.164" lengthAdjust="spacingAndGlyphs" style="text-rendering:geometricPrecision">17.2s</text><text x="979.79" y="642" font-size="15.2" textLength="35.027" lengthAdjust="spacingAndGlyphs" style="text-rendering:geometricPrecision">17.2s</text><text x="11.72" y="672" font-size="15.2" textLength="35.164" lengthAdjust="spacingAndGlyphs" style="text-rendering:geometricPrecision">17.0s</text><text x="979.79" y="672" font-size="15.2" textLength="35.027" lengthAdjust="spacingAndGlyphs" style="text-rendering:geometricPrecision">17.0s</text></g>
</svg>
</body></html>
